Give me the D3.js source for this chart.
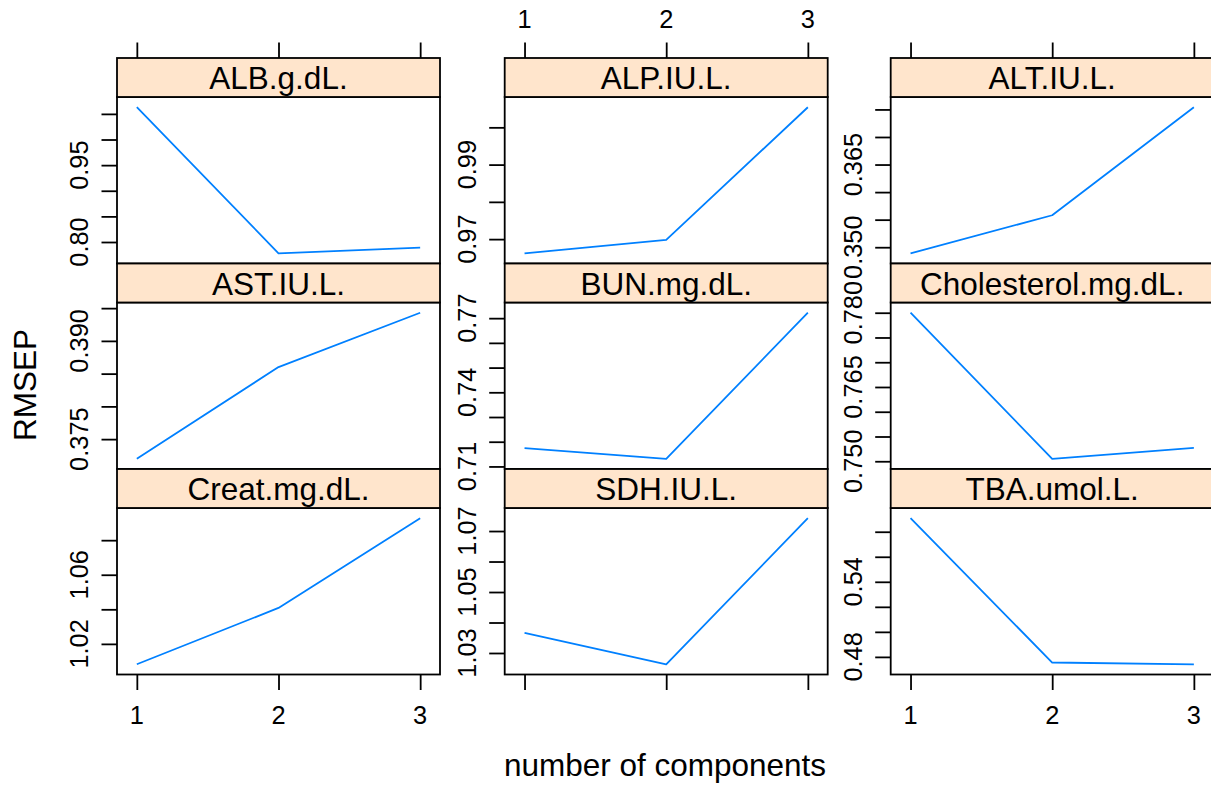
<!DOCTYPE html>
<html>
<head>
<meta charset="utf-8">
<script src="https://cdn.jsdelivr.net/npm/d3@7"></script>
<style>
  html, body { margin: 0; padding: 0; background: #ffffff; }
  svg { display: block; }
  text { font-family: "Liberation Sans", Arial, Helvetica, sans-serif; fill: #000; }
</style>
</head>
<body>
<div id="chart"></div>
<script>
// ---------------- data ----------------
const components = [1, 2, 3];
const panelNames = ["ALB.g.dL.", "ALP.IU.L.", "ALT.IU.L.",
                    "AST.IU.L.", "BUN.mg.dL.", "Cholesterol.mg.dL.",
                    "Creat.mg.dL.", "SDH.IU.L.", "TBA.umol.L."];
const rmsepValues = [
  [1.063, 0.778, 0.789],
  [0.9662, 0.9698, 1.0054],
  [0.3489, 0.3558, 0.3754],
  [0.3720, 0.3860, 0.3943],
  [0.7174, 0.7131, 0.7722],
  [0.7800, 0.7505, 0.7527],
  [1.0082, 1.0408, 1.0927],
  [1.0366, 1.0263, 1.0742],
  [0.5908, 0.4755, 0.4741]
];
const yTickValues = [
  [0.80, 0.85, 0.90, 0.95, 1.00, 1.05],
  [0.97, 0.98, 0.99, 1.00],
  [0.350, 0.355, 0.360, 0.365, 0.370, 0.375],
  [0.375, 0.380, 0.385, 0.390, 0.395],
  [0.71, 0.72, 0.73, 0.74, 0.75, 0.76, 0.77],
  [0.750, 0.755, 0.760, 0.765, 0.770, 0.775, 0.780],
  [1.02, 1.04, 1.06, 1.08],
  [1.03, 1.04, 1.05, 1.06, 1.07],
  [0.48, 0.50, 0.52, 0.54, 0.56, 0.58]
];
const yTickLabels = [
  ["0.80", "0.95"],
  ["0.97", "0.99"],
  ["0.350", "0.365"],
  ["0.375", "0.390"],
  ["0.71", "0.74", "0.77"],
  ["0.750", "0.765", "0.780"],
  ["1.02", "1.06"],
  ["1.03", "1.05", "1.07"],
  ["0.48", "0.54"]
];
const xTickLabels = ["1", "2", "3"];
const xLabel = "number of components";
const yLabel = "RMSEP";

// ---------------- layout ----------------
const W = 1211, H = 789;
const colLeft = [117, 504.7, 890.7];
const panelW = 323;
const rowTop0 = 58, rowPitch = 205.5, stripH = 39, panelH = 166.5;
const tickLen = 15.5;
const stripFill = "#ffe5cc";
const lineColor = "#0080ff";
const stripFont = 31.5, tickFont = 25.4, labFont = 31.5;

const svg = d3.select("#chart").append("svg")
  .attr("width", W).attr("height", H);

const defs = svg.append("defs");

panelNames.forEach((name, i) => {
  const col = i % 3, row = Math.floor(i / 3);
  const x0 = colLeft[col];
  const sTop = rowTop0 + row * rowPitch;
  const pTop = sTop + stripH;
  const pBot = pTop + panelH;

  const vals = rmsepValues[i];
  const [mn, mx] = d3.extent(vals);
  const pad = 0.07 * (mx - mn);
  const y = d3.scaleLinear().domain([mn - pad, mx + pad]).range([pBot, pTop]);
  const x = d3.scaleLinear().domain([1 - 0.14, 3 + 0.14]).range([x0, x0 + panelW]);

  const g = svg.append("g");

  // panel background
  g.append("rect").attr("x", x0).attr("y", pTop).attr("width", panelW).attr("height", panelH)
    .attr("fill", "#fff");

  // clip
  defs.append("clipPath").attr("id", "clip" + i)
    .append("rect").attr("x", x0).attr("y", pTop).attr("width", panelW).attr("height", panelH);

  // line
  const lineGen = d3.line().x((d, k) => x(components[k])).y(d => y(d));
  g.append("path").datum(vals)
    .attr("clip-path", `url(#clip${i})`)
    .attr("d", lineGen)
    .attr("fill", "none").attr("stroke", lineColor).attr("stroke-width", 1.8)
    .attr("stroke-linejoin", "round");

  // panel border
  g.append("rect").attr("x", x0).attr("y", pTop).attr("width", panelW).attr("height", panelH)
    .attr("fill", "none").attr("stroke", "#000").attr("stroke-width", 1.8);

  // strip
  g.append("rect").attr("x", x0).attr("y", sTop).attr("width", panelW).attr("height", stripH)
    .attr("fill", stripFill).attr("stroke", "#000").attr("stroke-width", 1.8);
  g.append("text").attr("x", x0 + panelW / 2).attr("y", sTop + 31)
    .attr("text-anchor", "middle").attr("font-size", stripFont).text(name);

  // y axis ticks (left)
  const yAxis = d3.axisLeft(y).tickValues(yTickValues[i]).tickSize(tickLen).tickFormat("");
  const ya = g.append("g").attr("transform", `translate(${x0},0)`).call(yAxis);
  ya.select(".domain").remove();
  ya.selectAll(".tick line").attr("stroke", "#000").attr("stroke-width", 1.8);

  // y tick labels (rotated)
  yTickLabels[i].forEach(lab => {
    const yy = y(+lab);
    g.append("text")
      .attr("transform", `translate(${x0 - 29},${yy}) rotate(-90)`)
      .attr("text-anchor", "middle").attr("font-size", tickFont).text(lab);
  });

  // top x ticks (first row)
  if (row === 0) {
    const xa = g.append("g").attr("transform", `translate(0,${sTop})`)
      .call(d3.axisTop(x).tickValues(components).tickSize(tickLen).tickFormat(""));
    xa.select(".domain").remove();
    xa.selectAll(".tick line").attr("stroke", "#000").attr("stroke-width", 1.8);
    if (col === 1) {
      components.forEach((c, k) => {
        g.append("text").attr("x", x(c)).attr("y", sTop - tickLen - 14.5)
          .attr("text-anchor", "middle").attr("font-size", tickFont).text(xTickLabels[k]);
      });
    }
  }
  // bottom x ticks (last row)
  if (row === 2) {
    const xa = g.append("g").attr("transform", `translate(0,${pBot})`)
      .call(d3.axisBottom(x).tickValues(components).tickSize(tickLen).tickFormat(""));
    xa.select(".domain").remove();
    xa.selectAll(".tick line").attr("stroke", "#000").attr("stroke-width", 1.8);
    if (col !== 1) {
      components.forEach((c, k) => {
        g.append("text").attr("x", x(c)).attr("y", pBot + 49.5)
          .attr("text-anchor", "middle").attr("font-size", tickFont).text(xTickLabels[k]);
      });
    }
  }
});

// axis titles
svg.append("text").attr("x", 665).attr("y", 776)
  .attr("text-anchor", "middle").attr("font-size", labFont).text(xLabel);
svg.append("text").attr("transform", "translate(36,385) rotate(-90)")
  .attr("text-anchor", "middle").attr("font-size", labFont).text(yLabel);
</script>
</body>
</html>
